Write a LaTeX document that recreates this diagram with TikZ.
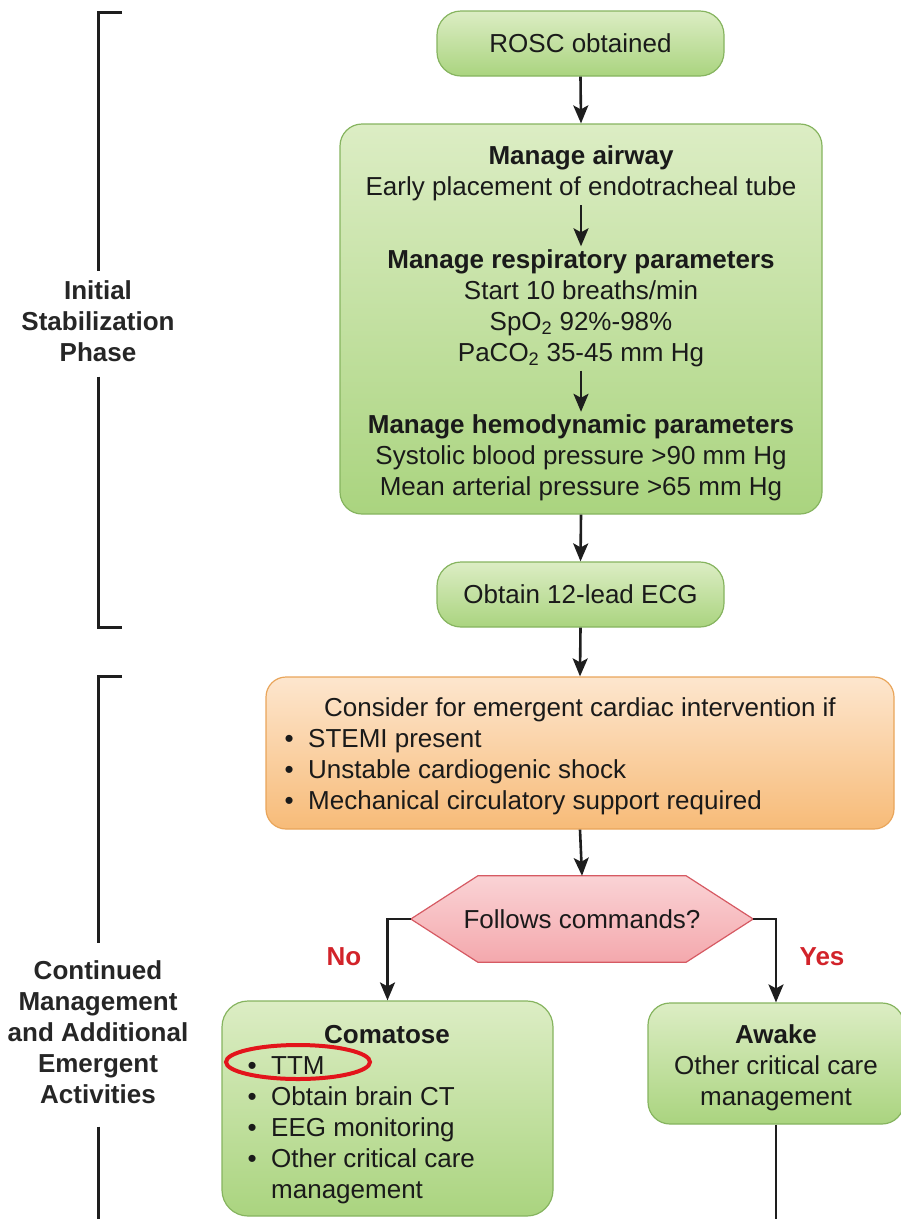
\documentclass[tikz,border=0pt]{standalone}
\usepackage{fontspec}
\setmainfont{Liberation Sans}
\usetikzlibrary{arrows.meta}
\definecolor{txt}{HTML}{1A1A1A}
\definecolor{linec}{HTML}{1E1E1E}
\definecolor{gtop}{HTML}{DCEDC4}
\definecolor{gbot}{HTML}{AAD47F}
\definecolor{gborder}{HTML}{86B45F}
\definecolor{otop}{HTML}{FDE6CE}
\definecolor{obot}{HTML}{F7BB78}
\definecolor{oborder}{HTML}{E9A55A}
\definecolor{ptop}{HTML}{FAD3D5}
\definecolor{pbot}{HTML}{F4A8AD}
\definecolor{pborder}{HTML}{D65A63}
\definecolor{redlab}{HTML}{D2232A}
\definecolor{ringred}{HTML}{E3141B}
\newcommand{\bul}{\makebox[23.5pt][l]{\textbullet}}
\begin{document}
\begin{tikzpicture}[x=1pt,y=-1pt,
  every node/.style={text=txt},
  ft/.style={font=\fontsize{26}{31}\selectfont, inner sep=0pt},
  gbox/.style={draw=gborder, line width=1.2pt, rounded corners=20pt, top color=gtop, bottom color=gbot},
  obox/.style={draw=oborder, line width=1.2pt, rounded corners=20pt, top color=otop, bottom color=obot},
  arr/.style={draw=linec, line width=2.6pt, -{Stealth[length=18pt,width=15pt,inset=4pt]}},
  plain/.style={draw=linec, line width=2.6pt},
  brk/.style={draw=linec, line width=3pt},
  side/.style={font=\bfseries\fontsize{26}{31}\selectfont, align=center, text=black!85},
  yn/.style={font=\bfseries\fontsize{26}{31}\selectfont, text=redlab}]
\useasboundingbox (0,0) rectangle (901,1219);

% boxes
\node[gbox, minimum width=287pt, minimum height=65pt, rounded corners=24pt, ft] (rosc) at (580.5,43.5) {\strut\raisebox{-3pt}{ROSC obtained}};
\node[gbox, minimum width=482pt, minimum height=390pt, rounded corners=22pt] (stab) at (581,319) {};
\node[ft, align=center] (t1) at (581,174) {\strut\textbf{Manage airway}\\\strut Early placement of endotracheal tube};
\node[ft, align=center] (t2) at (581,308.5) {\strut\textbf{Manage respiratory parameters}\\\strut Start 10 breaths/min\\\strut SpO\textsubscript{2} 92\%-98\%\\\strut PaCO\textsubscript{2} 35-45 mm Hg};
\node[ft, align=center] (t3) at (581,458.5) {\strut\textbf{Manage hemodynamic parameters}\\\strut Systolic blood pressure >90 mm Hg\\\strut Mean arterial pressure >65 mm Hg};

\node[gbox, minimum width=287pt, minimum height=65pt, rounded corners=24pt, ft] (ecg) at (580.5,594.5) {\strut\raisebox{-3pt}{Obtain 12-lead ECG}};

\node[obox, minimum width=628pt, minimum height=152pt] (cons) at (580,753) {};
\node[ft] (consh) at (580,710) {\strut Consider for emergent cardiac intervention if};
\node[ft, align=left, anchor=west] (consl) at (284.5,772) {\strut\bul STEMI present\\\strut\bul Unstable cardiogenic shock\\\strut\bul Mechanical circulatory support required};

% hexagon decision
\node[minimum width=342pt, minimum height=86pt, inner sep=0pt] (hex) at (582,919) {};
\path[draw=pborder, line width=1.2pt, top color=ptop, bottom color=pbot]
  (hex.west) -- ([xshift=67pt]hex.north west) -- ([xshift=-67pt]hex.north east)
  -- (hex.east) -- ([xshift=-67pt]hex.south east) -- ([xshift=67pt]hex.south west) -- cycle;
\node[ft] (hext) at ([yshift=-3pt]hex.center) {\strut Follows commands?};

\node[gbox, minimum width=331pt, minimum height=215pt, rounded corners=26pt] (coma) at (387.5,1108.5) {};
\node[ft] (comat) at (387,1037) {\strut\textbf{Comatose}};
\node[ft, align=left, anchor=west] (comal) at (247.5,1130) {\strut\bul TTM\\\strut\bul Obtain brain CT\\\strut\bul EEG monitoring\\\strut\bul Other critical care\\\strut\hspace*{23.5pt}management};

\node[gbox, minimum width=256pt, minimum height=121pt, rounded corners=22pt] (awake) at (776,1063.5) {};
\node[ft, align=center] (awaket) at (776,1068) {\strut\textbf{Awake}\\\strut Other critical care\\\strut management};
\coordinate (awend) at (776,1235);

% connectors
\draw[arr] (rosc.south) -- (stab.north);
\draw[arr] (t1.south) -- (t2.north);
\draw[arr] (t2.south) -- (t3.north);
\draw[arr] (stab.south) -- (ecg.north);
\draw[arr] (ecg.south) -- (cons.north);
\draw[arr] (cons.south) -- (hex.north);
\draw[arr] (hex.west) -| (coma.north);
\draw[arr] (hex.east) -| (awake.north);
\draw[plain] (awake.south) -- (awend);

\node[yn] (no) at (344,957) {No};
\node[yn] (yes) at (822,957) {Yes};

% highlight ring
\draw[ringred, line width=4pt] (298,1062) ellipse [x radius=72pt, y radius=17pt];

% side labels and brackets
\node[side, inner ysep=6pt] (lab1) at (98,324) {\strut Initial\\\strut Stabilization\\\strut Phase};
\node[side, inner ysep=14pt] (lab2) at (98,1035) {\strut Continued\\\strut Management\\\strut and Additional\\\strut Emergent\\\strut Activities};
\coordinate (b1t) at (122,12);
\coordinate (b1b) at (122,627);
\coordinate (b2t) at (122,676);
\coordinate (b2b) at (98,1235);
\draw[brk] (b1t) -- (b1t -| lab1.north) -- (lab1.north);
\draw[brk] (lab1.south) -- (b1b -| lab1.south) -- (b1b);
\draw[brk] (b2t) -- (b2t -| lab2.north) -- (lab2.north);
\draw[brk] (lab2.south) -- (b2b);
\end{tikzpicture}
\end{document}
